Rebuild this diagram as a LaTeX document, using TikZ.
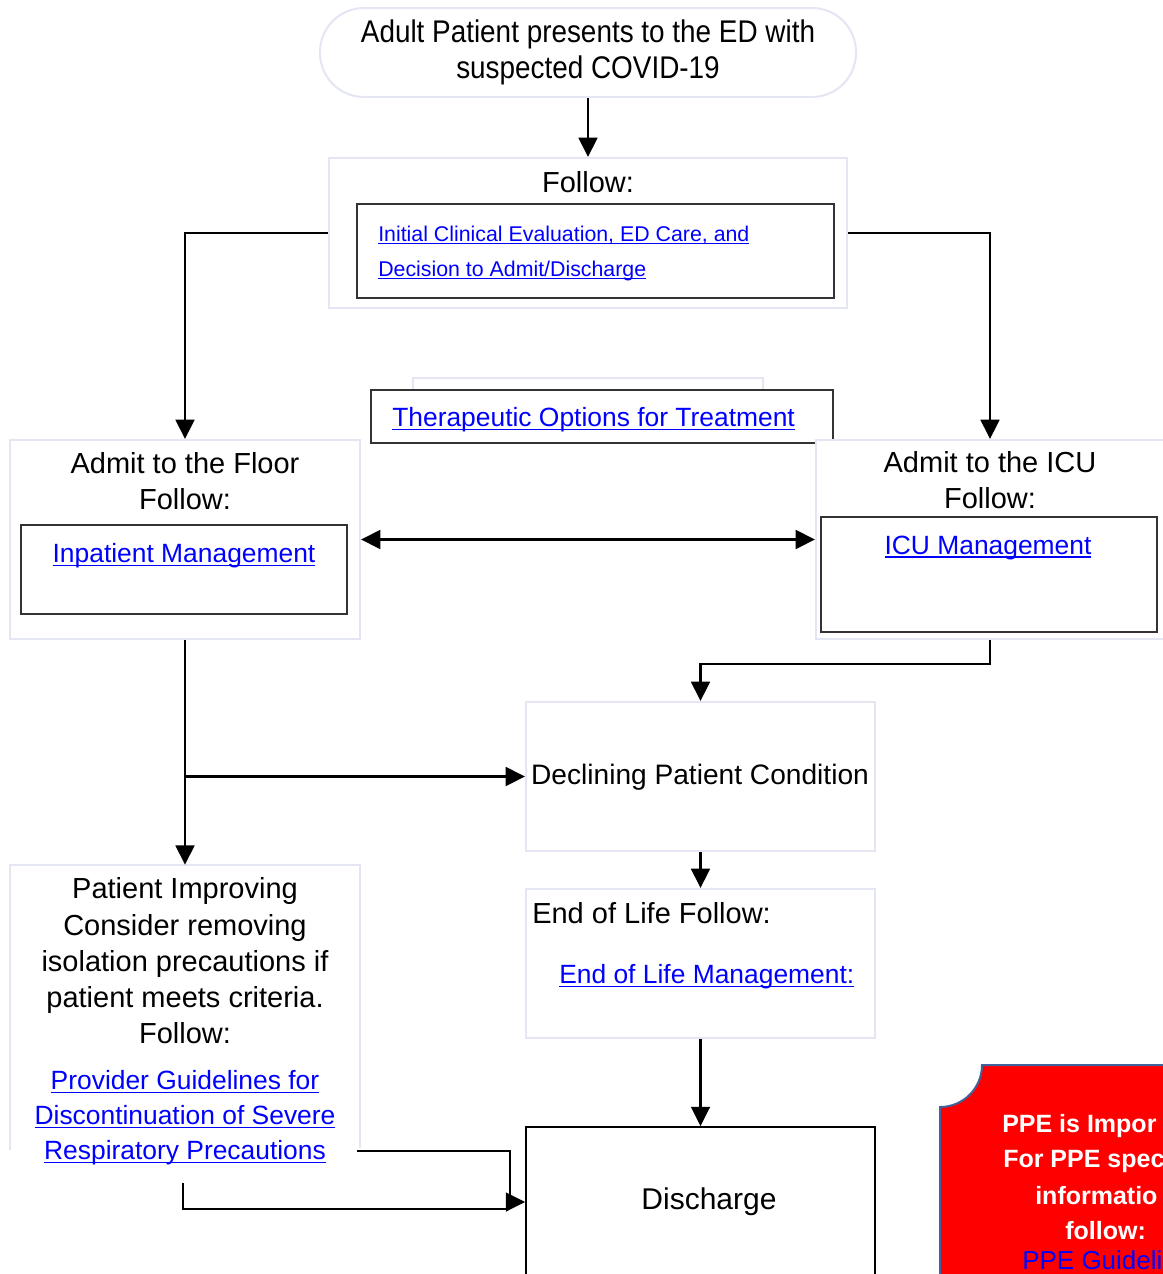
\documentclass[tikz,border=0pt]{standalone}
\usepackage{fontspec}
\setmainfont{Liberation Sans}
\newfontfamily\narrowfont[FakeStretch=0.89]{Liberation Sans}
\usetikzlibrary{arrows.meta,fit}
\definecolor{lightb}{HTML}{E4E6F4}
\definecolor{darkb}{HTML}{333333}
\definecolor{linkblue}{HTML}{0000FF}
\definecolor{ppeb}{HTML}{41619A}
\newcommand\lnk[1]{{\color{linkblue}\setbox0\hbox{#1}\rlap{\rule[-2.4pt]{\wd0}{1.1pt}}\box0}}
\begin{document}
\begin{tikzpicture}[x=0.75pt,y=-0.75pt,
  lightbox/.style={draw=lightb, line width=1.5pt, fill=white, inner sep=0pt},
  darkbox/.style={draw=darkb, line width=1.3pt, fill=white, inner sep=0pt},
  conn/.style={line width=2.1pt, -{Triangle[length=14.5pt,width=14pt]}},
  plainline/.style={line width=2.1pt},
  txt/.style={inner sep=0pt, font=\fontsize{21.75}{27}\selectfont, align=center},
  lnktxt/.style={inner sep=0pt, font=\fontsize{19.8}{26.25}\selectfont, align=center},
  ppetxt/.style={inner sep=0pt, anchor=west, text=white, font=\bfseries\fontsize{18.75}{26}\selectfont}]
\useasboundingbox (0,0) rectangle (1163,1274);
\clip (0,0) rectangle (1163,1274);

% start
\node[lightbox, rounded corners=33pt, fit={(320,8)(856,97)}] (start) {};
\node[txt, font=\narrowfont\fontsize{23.5}{27}\selectfont] (starttxt) at (588,52) {Adult Patient presents to the ED with\\suspected COVID-19};

% follow
\node[lightbox, fit={(329,158)(847,308)}] (follow) {};
\node[txt] (followlbl) at (588,182) {Follow:};
\node[darkbox, fit={(357,204)(834,298)}] (followin) {};
\node[lnktxt, anchor=west, align=left, font=\fontsize{16}{26.25}\selectfont] (followlnk) at (378,253) {\lnk{Initial Clinical Evaluation, ED Care, and}\\\lnk{Decision to Admit/Discharge}};

% therapeutic
\node[lightbox, fit={(413,378)(763,432)}] (therback) {};
\node[darkbox, fit={(371,390)(833,443)}] (ther) {};
\node[lnktxt, anchor=west] (therlnk) at (392,420) {\lnk{Therapeutic Options for Treatment}};

% floor
\node[lightbox, fit={(10,440)(360,639)}] (floor) {};
\node[txt] (floortxt) at (185,481) {Admit to the Floor\\Follow:};
\node[darkbox, fit={(21,525)(347,614)}] (floorin) {};
\node[lnktxt] (floorlnk) at (184,556) {\lnk{Inpatient Management}};

% icu
\node[lightbox, fit={(816,440)(1164,639)}] (icu) {};
\node[txt] (icutxt) at (990,480) {Admit to the ICU\\Follow:};
\node[darkbox, fit={(821,517)(1157,632)}] (icuin) {};
\node[lnktxt] (iculnk) at (988,548) {\lnk{ICU Management}};

% declining
\node[lightbox, fit={(526,702)(875,851)}] (decl) {};
\node[txt, font=\fontsize{21.1}{27}\selectfont] (decltxt) at (700,777) {Declining Patient Condition};

% end of life
\node[lightbox, fit={(526,889)(875,1038)}] (eol) {};
\node[txt, anchor=west] (eoltxt) at (532,913) {End of Life Follow:};
\node[lnktxt, anchor=west] (eollnk) at (559,977) {\lnk{End of Life Management:}};

% discharge
\node[darkbox, draw=black, fit={(526,1127)(875,1290)}] (disch) {};
\node[txt, font=\fontsize{22.5}{27}\selectfont] (dischtxt) at (709,1202) {Discharge};

% improving
\node[inner sep=0pt, fit={(10,865)(360,1150)}] (impr) {};
\draw[draw=lightb, line width=1.5pt] (impr.south west) |- (impr.north east) -- ([yshift=1.5pt]impr.south east);
\node[txt, font=\fontsize{21.75}{27.2}\selectfont] (imprtxt) at (185,961) {Patient Improving\\Consider removing\\isolation precautions if\\patient meets criteria.\\Follow:};
\node[lnktxt] (imprlnk) at (185,1118) {\lnk{Provider Guidelines for}\\\lnk{Discontinuation of Severe}\\\lnk{Respiratory Precautions}};

% connectors
\draw[conn] (start.south) -- (follow.north);
\draw[conn] (follow.west) -| (floor.north);
\draw[conn] (follow.east) -| (icu.north);
\draw[line width=2.1pt, {Triangle[length=14.5pt,width=14pt]}-{Triangle[length=14.5pt,width=14pt]}] (floor.east) -- (icu.west);
\coordinate (icuturn) at (990,664);
\draw[conn] (icu.south) -- (icuturn) -| (decl.north);
\draw[conn] (floor.south) -- (impr.north);
\coordinate (branch) at (185,776.5);
\draw[conn] (branch) -- (decl.west);
\draw[conn] (decl.south) -- (eol.north);
\draw[conn] (eol.south) -- (disch.north);
\coordinate (lonestart) at (357,1151);
\coordinate (loneend) at (510,1196);
\draw[plainline] (lonestart) -| (loneend);
\coordinate (ltwostart) at (183,1183);
\coordinate (ltwoend) at (509,1209);
\draw[plainline] (ltwostart) |- (ltwoend);
\coordinate (tipbase) at (506,1202);
\draw[conn] (tipbase) -- (disch.west |- tipbase);

% PPE box
\path[fill=red, draw=ppeb, line width=1.5pt] (982,1065) -- (1175,1065) -- (1175,1285) -- (940,1285) -- (940,1107) .. controls (963.2,1107) and (982,1088.2) .. (982,1065) -- cycle;
\node[ppetxt] (ppea) at (1002,1126) {PPE is Impor};
\node[ppetxt] (ppeb) at (1003,1161) {For PPE spec};
\node[ppetxt] (ppec) at (1035,1196) {informatio};
\node[ppetxt] (pped) at (1065,1231) {follow:};
\node[ppetxt, text=linkblue, font=\fontsize{19.5}{26}\selectfont] (ppee) at (1022,1260) {PPE Guideli};
\end{tikzpicture}
\end{document}
